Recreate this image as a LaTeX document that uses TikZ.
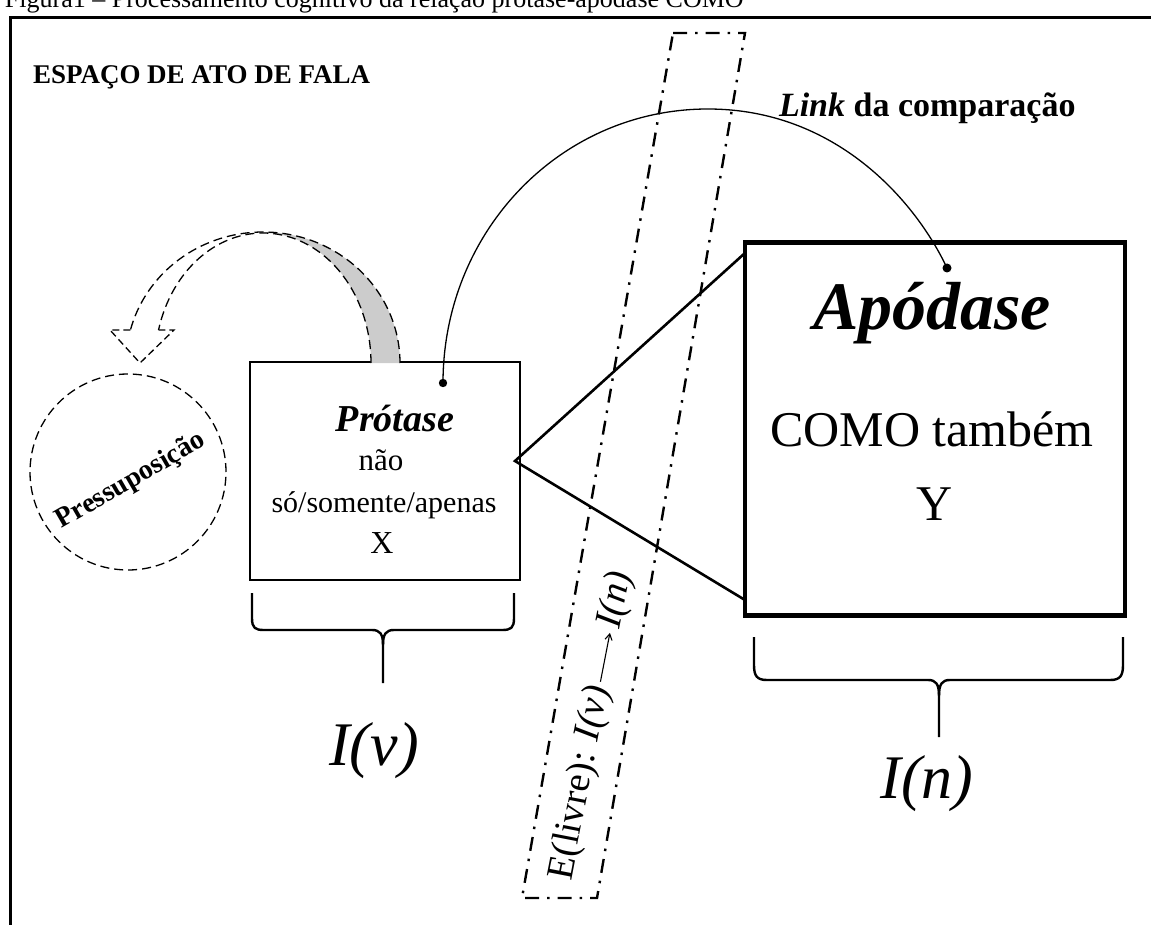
\documentclass[tikz,border=0pt]{standalone}
\usepackage{fontspec}
\setmainfont{Liberation Serif}
\usetikzlibrary{arrows.meta}
\begin{document}
\begin{tikzpicture}[x=1pt,y=-1pt,
  txt/.style={inner sep=0pt, outer sep=0pt},
  boxline/.style={draw, line width=2.6pt, inner sep=0pt},
  dashln/.style={line width=1.3pt, dash pattern=on 9pt off 5pt},
  dashdot/.style={line width=2.4pt, dash pattern=on 14pt off 8pt on 2.5pt off 8pt},
  bracestyle/.style={line width=2.4pt, line join=round},
  heavy/.style={line width=2.6pt},
  bandtxt/.style={txt, anchor=base west, transform shape, font=\fontsize{38}{40}\selectfont}]
\useasboundingbox (0,0) rectangle (1151,925);

% caption line (cut by the page top)
\node[txt, anchor=base west] (cap) at (5,8)
  {\fontsize{26}{28}\selectfont Figura1 – Processamento cognitivo da relação prótase-apódase COMO};

% outer frame (open to the right and bottom)
\coordinate (fbl) at (10,930);
\coordinate (ftl) at (10,18);
\coordinate (ftr) at (1160,18);
\draw[line width=3pt] (fbl) -- (ftl) -- (ftr);

\node[txt, anchor=base west] (title) at (33,84)
  {\fontsize{27}{30}\selectfont\bfseries ESPAÇO DE ATO DE FALA};

% slanted dash-dot band
\coordinate (btl) at (673,33);
\coordinate (btr) at (745,33);
\coordinate (bbr) at (597,898);
\coordinate (bbl) at (522,898);
\draw[dashdot] (btl) -- (btr) -- (bbr) -- (bbl) -- cycle;

% label written along the band
\begin{scope}[shift={(571,881)}, rotate=79]
  \node[bandtxt] (bandA) at (0,0) {E(livre): \textit{I(v)}};
  \node[bandtxt] (bandB) at (256,0) {\textit{I(n)}};
  \draw[line width=1.1pt, -{Straight Barb[length=6pt, width=7pt]},
        shorten <=5pt, shorten >=5pt] (bandA.east) -- (bandB.west);
\end{scope}

% boxes
\node[boxline, minimum width=270pt, minimum height=218pt] (prot) at (385,471) {};
\node[draw, line width=4.5pt, minimum width=380pt, minimum height=373pt, inner sep=0pt] (apod) at (935,429) {};

\node[txt, anchor=base] (protT) at (395,431) {\fontsize{38}{40}\selectfont\bfseries\itshape Prótase};
\node[txt, anchor=base] (protA) at (381,470) {\fontsize{31}{34}\selectfont não};
\node[txt, anchor=base] (protB) at (384,512) {\fontsize{30}{34}\selectfont só/somente/apenas};
\node[txt, anchor=base] (protC) at (382,553) {\fontsize{32}{34}\selectfont X};

\node[txt, anchor=base] (apodT) at (932,330) {\fontsize{68}{70}\selectfont\bfseries\itshape Apódase};
\node[txt, anchor=base] (apodA) at (932,446) {\fontsize{50}{54}\selectfont COMO também};
\node[txt, anchor=base] (apodB) at (935,520) {\fontsize{50}{54}\selectfont Y};

% projection lines from the protasis to the apodosis
\coordinate (apex) at (515,461);
\coordinate (aT) at (745,253);
\coordinate (aB) at (745,600);
\draw[heavy] (aT) -- (apex) -- (aB);

% comparison link
\coordinate (l1) at (443,383);
\coordinate (ltop) at (708,109);
\coordinate (l2) at (947,268);
\draw[line width=1.3pt] (l1) .. controls (443,232) and (560,109) .. (ltop)
  .. controls (835,109) and (915,200) .. (l2);
\fill (l1) circle (4.2);
\fill (l2) circle (4.5);
\node[txt, anchor=base west] (linkT) at (779,117)
  {\fontsize{34}{36}\selectfont\bfseries\textit{Link} da comparação};

% curved presupposition arrow
\fill[gray!40] plot[domain=0:90, samples=40] ({263+137*cos(\x)},{363-131*sin(\x)})
  -- plot[domain=90:0, samples=40] ({263+108*cos(\x)},{363-130*sin(\x)}) -- cycle;
\draw[dashln] plot[domain=0:165.4, samples=80] ({263+137*cos(\x)},{363-131*sin(\x)});
\draw[dashln] plot[domain=0:165.3, samples=80] ({263+108*cos(\x)},{363-130*sin(\x)});
\coordinate (nkO) at (130.4,330);
\coordinate (nkI) at (158.5,330);
\coordinate (wgL) at (110,330);
\coordinate (wgR) at (174,330);
\coordinate (tip) at (140,363);
\draw[dashln, dash pattern=on 7pt off 4pt] (nkO) -- (wgL) -- (tip) -- (wgR) -- (nkI);

\node[draw, dashln, circle, minimum size=196pt, inner sep=0pt] (pres) at (128,472) {};
\node[txt, rotate=30] (presT) at (131,481) {\fontsize{28}{30}\selectfont\bfseries Pressuposição};

% braces
\coordinate (b1a) at (252,593);
\coordinate (b1m) at (383,683);
\coordinate (b1b) at (514,593);
\draw[bracestyle] (b1a) -- (252,618) .. controls (252,628) and (255,630) .. (264,630)
  -- (372,630) .. controls (380,630) and (383,634) .. (383,645) -- (b1m);
\draw[bracestyle] (b1b) -- (514,618) .. controls (514,628) and (511,630) .. (502,630)
  -- (394,630) .. controls (386,630) and (383,634) .. (383,645);
\node[txt, anchor=base] (iv) at (374,765) {\fontsize{62}{64}\selectfont\itshape I(v)};

\coordinate (b2a) at (754,637);
\coordinate (b2m) at (939,737);
\coordinate (b2b) at (1123,637);
\draw[bracestyle] (b2a) -- (754,665) .. controls (754,676) and (757,680) .. (767,680)
  -- (928,680) .. controls (936,680) and (939,684) .. (939,696) -- (b2m);
\draw[bracestyle] (b2b) -- (1123,665) .. controls (1123,676) and (1120,680) .. (1110,680)
  -- (950,680) .. controls (942,680) and (939,684) .. (939,696);
\node[txt, anchor=base] (in) at (927,798) {\fontsize{62}{64}\selectfont\itshape I(n)};
\end{tikzpicture}
\end{document}
